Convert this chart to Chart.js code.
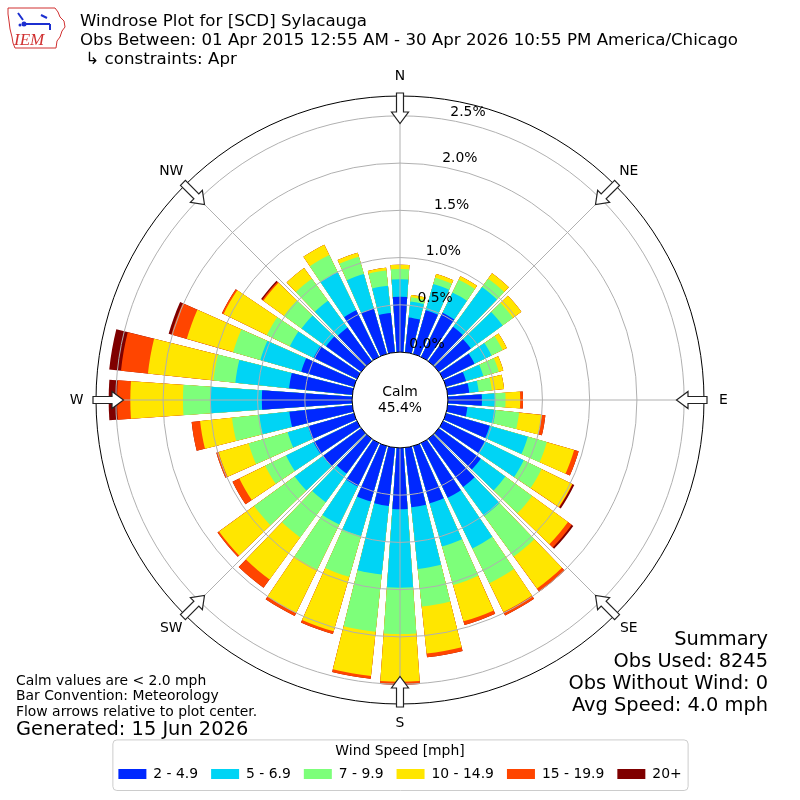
<!DOCTYPE html>
<html>
<head>
<meta charset="utf-8">
<title>Windrose Plot for [SCD] Sylacauga</title>
<script src="https://cdn.jsdelivr.net/npm/chart.js@4.4.1/dist/chart.umd.min.js"></script>
<style>
  html, body { margin: 0; padding: 0; background: #fff; }
  canvas { display: block; }
</style>
</head>
<body>
<canvas id="rose" width="800" height="800"></canvas>
<script>
// direction each bar points from (degrees clockwise from north)
const directions = [0, 10, 20, 30, 40, 50, 60, 70, 80, 90, 100, 110, 120, 130, 140, 150, 160, 170,
  180, 190, 200, 210, 220, 230, 240, 250, 260, 270, 280, 290, 300, 310, 320, 330, 340, 350]

// frequency [%] of each speed bin per direction
const speed2to5 = [0.585, 0.37, 0.48, 0.52, 0.45, 0.42, 0.37, 0.22, 0.23, 0.36, 0.21, 0.48, 0.49, 0.55, 0.63, 0.645, 0.63, 0.635,
  0.65, 0.62, 0.61, 0.51, 0.455, 0.50, 0.51, 0.505, 0.67, 0.955, 0.673, 0.58, 0.51, 0.46, 0.44, 0.55, 0.50, 0.42]
const speed5to7 = [0.185, 0.17, 0.29, 0.24, 0.52, 0.415, 0.20, 0.19, 0.10, 0.14, 0.30, 0.42, 0.46, 0.32, 0.38, 0.595, 0.475, 0.655,
  0.83, 0.73, 0.38, 0.45, 0.375, 0.37, 0.325, 0.225, 0.32, 0.545, 0.572, 0.45, 0.28, 0.32, 0.35, 0.45, 0.38, 0.29]
const speed7to10 = [0.11, 0.045, 0.07, 0.15, 0.11, 0.135, 0.13, 0.17, 0.14, 0.11, 0.25, 0.21, 0.21, 0.35, 0.53, 0.41, 0.425, 0.40,
  0.49, 0.61, 0.45, 0.53, 0.46, 0.53, 0.245, 0.43, 0.29, 0.29, 0.233, 0.30, 0.27, 0.23, 0.29, 0.20, 0.19, 0.16]
const speed10to15 = [0.045, 0.025, 0.04, 0.04, 0.07, 0.11, 0.05, 0.05, 0.13, 0.155, 0.24, 0.30, 0.36, 0.47, 0.42, 0.34, 0.40, 0.50,
  0.505, 0.47, 0.60, 0.51, 0.55, 0.46, 0.305, 0.33, 0.34, 0.557, 0.697, 0.51, 0.51, 0.27, 0.14, 0.12, 0.045, 0.03]
const speed15to20 = [0, 0, 0, 0, 0, 0, 0, 0, 0, 0.03, 0.04, 0.05, 0.005, 0.05, 0.04, 0.04, 0.04, 0.04,
  0.03, 0.03, 0.03, 0.035, 0.11, 0.02, 0.08, 0.025, 0.09, 0.14, 0.287, 0.17, 0.02, 0.015, 0, 0, 0, 0]
const speed20plus = [0, 0, 0, 0, 0, 0, 0, 0, 0, 0, 0, 0, 0.02, 0.02, 0, 0, 0, 0,
  0, 0, 0, 0, 0, 0, 0, 0, 0, 0.089, 0.125, 0.03, 0, 0.015, 0, 0, 0, 0]

const speedBins = ['2 - 4.9', '5 - 6.9', '7 - 9.9', '10 - 14.9', '15 - 19.9', '20+']
const binColors = ['#0028ff', '#00d4f5', '#7dff7a', '#ffe600', '#ff4500', '#7f0000']
const radialTicks = [0, 0.5, 1.0, 1.5, 2.0, 2.5]
const compassLabels = ['N', 'NE', 'E', 'SE', 'S', 'SW', 'W', 'NW']
const calmPercent = 45.4

const titleLines = [
  'Windrose Plot for [SCD] Sylacauga',
  'Obs Between: 01 Apr 2015 12:55 AM - 30 Apr 2026 10:55 PM America/Chicago',
  ' \u21b3 constraints: Apr'
]
const noteLines = ['Calm values are < 2.0 mph', 'Bar Convention: Meteorology', 'Flow arrows relative to plot center.']
const generatedLine = 'Generated: 15 Jun 2026'
const summaryLines = ['Summary', 'Obs Used: 8245', 'Obs Without Wind: 0', 'Avg Speed: 4.0 mph']

const FONT = 'DejaVu Sans'
Chart.defaults.font.family = FONT
Chart.defaults.color = '#000'

// polarArea does not stack, so each bin is drawn as a cumulative wedge,
// the first (smallest) dataset ends up on top. Every direction gets a bar
// slot and a narrow empty slot so the bars stand apart.
const running = directions.map(() => 0)
const datasets = [speed2to5, speed5to7, speed7to10, speed10to15, speed15to20, speed20plus].map((series, b) => {
  const data = []
  series.forEach((v, i) => {
    running[i] += v
    data.push(+running[i].toFixed(3), 0)
  })
  return {
    label: speedBins[b],
    data,
    backgroundColor: ctx => ctx.dataIndex % 2 ? 'rgba(0,0,0,0)' : binColors[b],
    borderWidth: 0,
    angle: ctx => ctx.dataIndex % 2 ? 2 : 8
  }
})
const labels = directions.flatMap(d => [d + '\u00b0', ''])

const R_MIN = -0.507
const R_MAX = 2.71

function polar(scale, r, deg) {
  const t = deg * Math.PI / 180
  return [scale.xCenter + r * Math.sin(t), scale.yCenter - r * Math.cos(t)]
}

function drawArrow(ctx, scale, deg, rTail, rBase, rTip) {
  const shaft = 3.5, head = 8.5
  const t = deg * Math.PI / 180
  const ux = Math.sin(t), uy = -Math.cos(t)
  const px = Math.cos(t), py = Math.sin(t)
  const pt = (r, w) => [scale.xCenter + ux * r + px * w, scale.yCenter + uy * r + py * w]
  const pts = [pt(rTail, -shaft), pt(rBase, -shaft), pt(rBase, -head), pt(rTip, 0),
    pt(rBase, head), pt(rBase, shaft), pt(rTail, shaft)]
  ctx.beginPath()
  ctx.moveTo(pts[0][0], pts[0][1])
  pts.slice(1).forEach(p => ctx.lineTo(p[0], p[1]))
  ctx.closePath()
  ctx.fillStyle = '#fff'
  ctx.fill()
  ctx.strokeStyle = '#222'
  ctx.lineWidth = 1.2
  ctx.stroke()
}

function drawLogo(ctx) {
  ctx.save()
  ctx.strokeStyle = '#d03030'
  ctx.lineWidth = 1
  ctx.beginPath()
  const outline = [[8, 8], [55, 8], [58, 12], [60, 17], [64, 21], [65, 27], [62, 31], [60, 37], [57, 41],
    [56, 48], [15, 48], [13, 43], [12, 37], [10, 29], [9, 21], [8, 14]]
  outline.forEach((p, i) => i ? ctx.lineTo(p[0], p[1]) : ctx.moveTo(p[0], p[1]))
  ctx.closePath()
  ctx.stroke()
  ctx.strokeStyle = '#1c2fd0'
  ctx.fillStyle = '#1c2fd0'
  ctx.lineWidth = 2
  ctx.beginPath()
  ctx.moveTo(23, 24); ctx.lineTo(50, 24)
  ctx.moveTo(18, 13); ctx.lineTo(23, 20)
  ctx.moveTo(41, 15); ctx.lineTo(47, 18)
  ctx.moveTo(50, 24); ctx.lineTo(50, 30)
  ctx.stroke()
  ctx.beginPath(); ctx.arc(24, 24, 2.5, 0, Math.PI * 2); ctx.fill()
  ctx.beginPath(); ctx.arc(20, 25, 1.5, 0, Math.PI * 2); ctx.fill()
  ctx.fillStyle = '#d03030'
  ctx.font = 'italic 17px "Liberation Serif"'
  ctx.textAlign = 'left'
  ctx.textBaseline = 'alphabetic'
  ctx.fillText('IEM', 14, 45)
  ctx.restore()
}

const roseDecor = {
  id: 'roseDecor',
  afterDatasetsDraw(chart) {
    const s = chart.scales.r
    const ctx = chart.ctx
    const r0 = s.getDistanceFromCenterForValue(0)
    const rMax = s.getDistanceFromCenterForValue(s.max)
    ctx.save()
    ctx.strokeStyle = '#b0b0b0'
    ctx.lineWidth = 1
    for (let a = 0; a < 360; a += 45) {
      const [x0, y0] = polar(s, r0, a)
      const [x1, y1] = polar(s, rMax, a)
      ctx.beginPath()
      ctx.moveTo(x0, y0)
      ctx.lineTo(x1, y1)
      ctx.stroke()
    }
    // calm circle
    ctx.beginPath()
    ctx.arc(s.xCenter, s.yCenter, r0, 0, Math.PI * 2)
    ctx.fillStyle = '#fff'
    ctx.fill()
    ctx.strokeStyle = '#000'
    ctx.stroke()
    ctx.restore()
  },
  afterDraw(chart) {
    const s = chart.scales.r
    const ctx = chart.ctx
    const rMax = s.getDistanceFromCenterForValue(s.max)
    ctx.save()
    ctx.fillStyle = '#000'

    // radial tick labels
    ctx.font = '13.9px "' + FONT + '"'
    ctx.textAlign = 'left'
    ctx.textBaseline = 'middle'
    radialTicks.forEach(v => {
      const [x, y] = polar(s, s.getDistanceFromCenterForValue(v), 10)
      ctx.fillText(v.toFixed(1) + '%', x + 1, y - 8)
    })

    // compass labels and flow arrows
    ctx.textAlign = 'center'
    compassLabels.forEach((lab, i) => {
      const [x, y] = polar(s, rMax + 19.5, i * 45)
      ctx.fillStyle = '#000'
      ctx.fillText(lab, x, y)
      drawArrow(ctx, s, i * 45, rMax + 3, rMax - 16, rMax - 27.5)
    })

    // calm
    ctx.fillStyle = '#000'
    ctx.fillText('Calm', s.xCenter, s.yCenter - 8)
    ctx.fillText(calmPercent.toFixed(1) + '%', s.xCenter, s.yCenter + 8)

    // title
    ctx.textAlign = 'left'
    ctx.textBaseline = 'alphabetic'
    ctx.font = '16.67px "' + FONT + '"'
    titleLines.forEach((t, i) => ctx.fillText(t, 80, 26 + i * 19))

    // notes, bottom left
    ctx.font = '13.9px "' + FONT + '"'
    ctx.textBaseline = 'middle'
    noteLines.forEach((t, i) => ctx.fillText(t, 16, 681 + i * 15.6))
    ctx.font = '19.4px "' + FONT + '"'
    ctx.fillText(generatedLine, 16, 730)

    // summary, bottom right
    ctx.textAlign = 'right'
    summaryLines.forEach((t, i) => ctx.fillText(t, 768, 640 + i * 22))

    // frame around the legend
    const lg = chart.legend
    const hb = lg.legendHitBoxes
    const left = Math.min(...hb.map(h => h.left)) - 6
    const right = Math.max(...hb.map(h => h.left + h.width)) + 6
    ctx.strokeStyle = '#cccccc'
    ctx.lineWidth = 1
    ctx.beginPath()
    ctx.roundRect(left + 0.5, lg.top + 0.5, right - left, lg.bottom - lg.top - 1, 4)
    ctx.stroke()

    drawLogo(ctx)
    ctx.restore()
  }
}

new Chart(document.getElementById('rose'), {
  type: 'polarArea',
  data: { labels, datasets },
  options: {
    responsive: false,
    animation: false,
    events: [],
    layout: { padding: { left: 96, right: 96, top: 61, bottom: 9 } },
    scales: {
      r: {
        min: R_MIN,
        max: R_MAX,
        startAngle: -4,
        ticks: { display: false },
        afterBuildTicks: scale => {
          scale.ticks = radialTicks.slice(1).concat(R_MAX).map(v => ({ value: v }))
        },
        grid: {
          z: 1,
          circular: true,
          lineWidth: 1,
          color: ctx => ctx.tick && ctx.tick.value >= R_MAX ? '#000' : '#b0b0b0'
        },
        angleLines: { display: false },
        pointLabels: { display: false }
      }
    },
    plugins: {
      tooltip: { enabled: false },
      legend: {
        position: 'bottom',
        title: {
          display: true,
          text: 'Wind Speed [mph]',
          color: '#000',
          font: { family: FONT, size: 13.9 },
          padding: { top: 5, bottom: -7 }
        },
        labels: {
          boxWidth: 28,
          boxHeight: 10,
          padding: 13,
          color: '#000',
          font: { family: FONT, size: 13.9 },
          generateLabels: () => speedBins.map((t, i) => ({
            text: t,
            fillStyle: binColors[i],
            strokeStyle: binColors[i],
            lineWidth: 0,
            hidden: false,
            datasetIndex: i
          }))
        }
      }
    }
  },
  plugins: [roseDecor]
})
</script>
</body>
</html>
